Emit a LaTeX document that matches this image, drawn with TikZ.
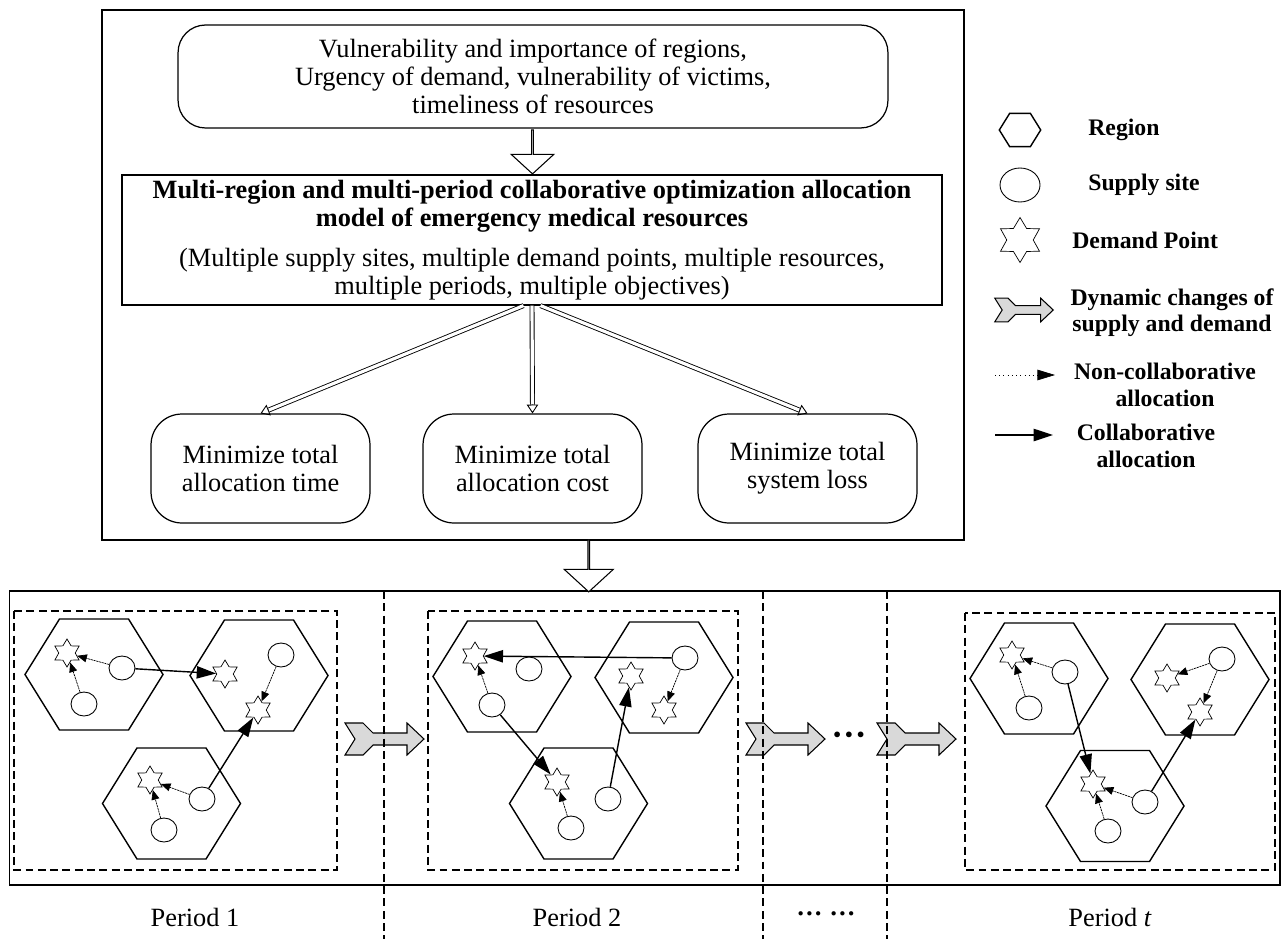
\documentclass[tikz,border=0pt]{standalone}
\usepackage{fontspec}
\setmainfont{Liberation Serif}
\usetikzlibrary{shapes.geometric,shapes.arrows,arrows.meta,calc,positioning}
\definecolor{dyngray}{RGB}{217,217,217}

\tikzset{
  box/.style={draw, line width=0.7pt, align=center, inner sep=0pt},
  goal/.style={box, rounded corners=0.62cm, minimum width=4.38cm, minimum height=2.18cm},
  bigarrow/.style={draw, line width=0.6pt, fill=white, single arrow, single arrow head extend=0.26cm,
    single arrow tip angle=95, minimum width=0.85cm, inner sep=0pt, shape border rotate=270},
  shaft/.style={double, double distance=1.8pt, line width=0.5pt, shorten >=5pt},
  hollowtip/.style={line width=0.5pt, -{Triangle[open, length=5pt, width=6.5pt]}},
  site/.style={draw, ellipse, line width=0.5pt, minimum width=0.52cm, minimum height=0.48cm, inner sep=0pt, fill=white},
  demand/.style={draw, star, star points=6, star point ratio=1.7, line width=0.4pt, minimum size=0.56cm, inner sep=0pt, fill=white},
  noncollab/.style={line width=0.4pt, dash pattern=on 1.2pt off 0.4pt, -{Triangle[length=5.5pt, width=4.5pt]}},
  collab/.style={line width=0.8pt, -{Triangle[length=11pt, width=7pt]}},
  periodbox/.style={dash pattern=on 4.5pt off 2.5pt, line width=0.6pt},
  legend/.style={font=\fontsize{13.5}{15}\selectfont\bfseries, align=center, inner sep=0pt},
  region/.pic={\draw[line width=0.8pt] (-69,0) -- (-34.5,-55.5) -- (34.5,-55.5) -- (69,0) -- (34.5,55.5) -- (-34.5,55.5) -- cycle;},
  dynchange/.pic={\draw[line width=0.6pt, fill=dyngray] (-39.5,-16) -- (-21.5,-16) -- (-11.5,-6) -- (22.5,-6) -- (22.5,-16)
    -- (39.5,0) -- (22.5,16) -- (22.5,6) -- (-11.5,6) -- (-21.5,16) -- (-39.5,16) -- (-29.5,0) -- cycle;},
}

\begin{document}
\begin{tikzpicture}[x=0.02cm, y=-0.02cm, font=\fontsize{15}{16}\selectfont]
    \useasboundingbox (0,0) rectangle (1283,939);

    % Model
    \node[box, minimum width=17.24cm, minimum height=10.6cm] (upper) at (533,275) {};
    \node[box, rounded corners=0.55cm, minimum width=14.2cm, minimum height=2.06cm] (factor) at (533,76.5)
        {Vulnerability and importance of regions,\\ Urgency of demand, vulnerability of victims,\\ timeliness of resources};
    \node[box, minimum width=16.4cm, minimum height=2.6cm] (model) at (532,240)
        {\textbf{Multi-region and multi-period collaborative optimization allocation}\\
         \textbf{model of emergency medical resources}\\[7pt]
         (Multiple supply sites, multiple demand points, multiple resources,\\ multiple periods, multiple objectives)};
    \node[bigarrow, minimum height=0.88cm] (arrmodel) at ($(factor.south)!0.5!(model.north)$) {};

    \node[goal] (time) at (260.5,468.5) {Minimize total\\ allocation time};
    \node[goal] (cost) at (532.5,468.5) {Minimize total\\ allocation cost};
    \node[goal] (loss) at (807.5,468.5) {Minimize total\\ system loss};

    \coordinate (outl) at ([xshift=-0.17cm]model.south);
    \coordinate (outr) at ([xshift=0.17cm]model.south);
    \draw[shaft] (outl) -- (time.north);
    \draw[hollowtip] ($(time.north)!5pt!(outl)$) -- (time.north);
    \draw[shaft] (model.south) -- (cost.north);
    \draw[hollowtip] ($(cost.north)!5pt!(model.south)$) -- (cost.north);
    \draw[shaft] (outr) -- (loss.north);
    \draw[hollowtip] ($(loss.north)!5pt!(outr)$) -- (loss.north);

    % Periods
    \node[box, minimum width=25.42cm, minimum height=5.88cm] (lower) at (644.5,738) {};
    \node[bigarrow, minimum height=1.04cm, minimum width=0.98cm, single arrow head extend=0.32cm] (arrperiod)
        at ($(upper.south)!0.5!(lower.north)$) {};

    \draw[periodbox] (14,611) rectangle (337,870);
    \draw[periodbox] (428,611) rectangle (738,870);
    \draw[periodbox] (965,613) rectangle (1275,870);

    \pic at (384.5,739) {dynchange};
    \pic at (785.5,739) {dynchange};
    \pic at (916.5,739) {dynchange};
    \node (dots) at (849,739) {\fontsize{20}{20}\selectfont\textbf{···}};

    \draw[periodbox] (384,591) -- (384,939);
    \draw[periodbox] (763,591) -- (763,939);
    \draw[periodbox] (887,591) -- (887,939);

    % Period 1
    \pic at (94,674.5) {region};
    \pic at (259,675.5) {region};
    \pic at (171.5,803.5) {region};
    \node[demand] (p1s1) at (67,653) {};
    \node[site] (p1c1) at (122,668) {};
    \node[site] (p1c2) at (84,704) {};
    \node[demand] (p1s2) at (225,674) {};
    \node[site] (p1c3) at (281,655) {};
    \node[demand] (p1s3) at (258,710) {};
    \node[demand] (p1s4) at (150,780) {};
    \node[site] (p1c4) at (202,799) {};
    \node[site] (p1c5) at (164,830) {};
    \draw[noncollab] (p1c1) -- (p1s1);
    \draw[noncollab] (p1c2) -- (p1s1);
    \draw[noncollab] (p1c3) -- (p1s3);
    \draw[noncollab] (p1c4) -- (p1s4);
    \draw[noncollab] (p1c5) -- (p1s4);
    \draw[collab] (p1c1) -- (p1s2);
    \draw[collab] (p1c4) -- (p1s3);

    % Period 2
    \pic at (502,676.5) {region};
    \pic at (664,677.5) {region};
    \pic at (578.5,803.5) {region};
    \node[demand] (p2s1) at (475,656) {};
    \node[site] (p2c1) at (529,669) {};
    \node[site] (p2c2) at (492,705) {};
    \node[site] (p2c3) at (685,658) {};
    \node[demand] (p2s2) at (631,676) {};
    \node[demand] (p2s3) at (664,710) {};
    \node[demand] (p2s4) at (557,782) {};
    \node[site] (p2c4) at (608,799) {};
    \node[site] (p2c5) at (571,828) {};
    \draw[noncollab] (p2c2) -- (p2s1);
    \draw[noncollab] (p2c3) -- (p2s3);
    \draw[noncollab] (p2c5) -- (p2s4);
    \draw[collab] (p2c3) -- (p2s1);
    \draw[collab] (p2c2) -- (p2s4);
    \draw[collab] (p2c4) -- (p2s2);

    % Period t
    \pic at (1039,678.5) {region};
    \pic at (1200,679.5) {region};
    \pic at (1115,806) {region};
    \node[demand] (pts1) at (1012,655) {};
    \node[site] (ptc1) at (1065,672) {};
    \node[site] (ptc2) at (1029,708) {};
    \node[site] (ptc3) at (1222,659) {};
    \node[demand] (pts2) at (1167,678) {};
    \node[demand] (pts3) at (1200,712) {};
    \node[demand] (pts4) at (1093,784) {};
    \node[site] (ptc4) at (1145,802) {};
    \node[site] (ptc5) at (1108,831) {};
    \draw[noncollab] (ptc1) -- (pts1);
    \draw[noncollab] (ptc2) -- (pts1);
    \draw[noncollab] (ptc3) -- (pts2);
    \draw[noncollab] (ptc3) -- (pts3);
    \draw[noncollab] (ptc4) -- (pts4);
    \draw[noncollab] (ptc5) -- (pts4);
    \draw[collab] (ptc1) -- (pts4);
    \draw[collab] (ptc4) -- (pts3);

    \node (per1) at (195,917) {Period 1};
    \node (per2) at (577,917) {Period 2};
    \node (perdots) at (826,917) {\textbf{···\ ···}};
    \node (pert) at (1110,917) {Period \textit{t}};

    % Legend
    \pic[scale=0.3] at (1020,130) {region};
    \node[legend, anchor=west] (lregion) at (1088,130) {Region};
    \node[site, minimum width=0.8cm, minimum height=0.68cm] (lsite) at (1020,185) {};
    \node[legend, anchor=west] (lsitetxt) at (1088,185) {Supply site};
    \node[demand, minimum size=0.9cm] (ldemand) at (1020,240) {};
    \node[legend, anchor=west] (ldemandtxt) at (1072,240) {Demand Point};
    \pic[scale=0.74] at (1024,310) {dynchange};
    \node[legend] (ldyn) at (1172,313) {Dynamic changes of\\ supply and demand};
    \coordinate (ln1) at (995,375);
    \coordinate (ln2) at (1055,375);
    \draw[line width=0.4pt, dotted, -{Triangle[length=10pt, width=6pt]}] (ln1) -- (ln2);
    \node[legend] (lnon) at (1165,385) {Non-collaborative\\ allocation};
    \coordinate (lc1) at (995,435);
    \coordinate (lc2) at (1053,435);
    \draw[collab] (lc1) -- (lc2);
    \node[legend] (lcol) at (1146,446) {Collaborative\\ allocation};
\end{tikzpicture}
\end{document}
